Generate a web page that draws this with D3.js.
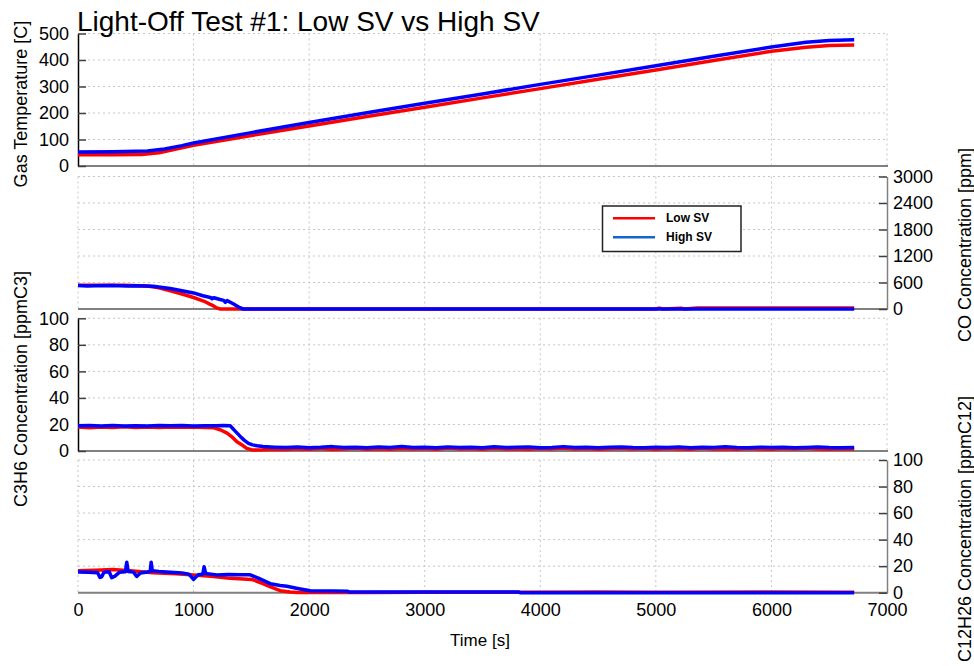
<!DOCTYPE html>
<html>
<head>
<meta charset="utf-8">
<script src="https://cdn.jsdelivr.net/npm/d3@7"></script>
<style>
  html, body { margin: 0; padding: 0; background: #fff; }
  svg { display: block; }
  text { font-family: "Liberation Sans", Arial, sans-serif; fill: #000; }
</style>
</head>
<body>
<svg id="chart" width="974" height="666"></svg>
<script>
// ---- Data: [time (s), value] ----
const seriesNames = ["Low SV", "High SV"];
const xTicks = [0, 1000, 2000, 3000, 4000, 5000, 6000, 7000];

// Gas temperature [C]
const tempLow = [[0,42],[300,42],[550,43],[700,50],[850,64],[1000,78],[1500,115],[2000,151],[2500,187],
  [3000,222],[3500,257],[4000,292],[4500,327],[5000,362],[5500,398],[6000,433],[6300,448],[6500,455],[6716,457]];
const tempHigh = [[0,53],[300,54],[600,57],[750,64],[900,77],[1000,87],[1500,126],[2000,164],[2500,201],
  [3000,237],[3500,272],[4000,308],[4500,343],[5000,378],[5500,414],[6000,449],[6300,467],[6500,474],[6716,476]];
const tempTicks = [0, 100, 200, 300, 400, 500];

// CO concentration [ppm]
const coLow = [[0,540],[200,540],[400,535],[600,520],[700,480],[800,410],[900,340],[1000,260],[1087,180],
  [1140,110],[1173,70],[1200,25],[1230,0],[5000,0],[5030,20],[5060,0],[5220,18],[5250,0],[5360,20],[6716,20]];
const coHigh = [[0,530],[80,520],[150,528],[300,530],[420,522],[500,528],[650,515],[797,463],[900,415],
  [1000,364],[1080,300],[1145,262],[1160,232],[1175,255],[1230,215],[1260,196],[1275,152],[1290,190],
  [1343,120],[1400,30],[1430,0],[6716,0]];
const coTicks = [0, 600, 1200, 1800, 2400, 3000];

// C3H6 concentration [ppmC3]
const c3h6Low = [[0,18],[100,17.6],[200,18.1],[300,17.8],[400,18.2],[500,17.7],[600,18],[700,17.8],[800,18.1],
  [900,17.9],[1000,18],[1100,17.8],[1170,17.6],[1230,16],[1290,13.5],[1340,10],[1375,7],[1420,4.5],[1460,2],
  [1500,1],[1520,0.7],[1600,0.9],[1700,1.4],[1800,1.1],[1900,1.6],[2000,1.3],[2100,1.8],[2200,1.2],[2300,1.5],
  [2400,2.1],[2500,1.4],[2600,1.7],[2700,1.3],[2800,1.9],[2900,1.5],[3000,1.8],[3100,1.4],[3200,2.2],[3300,1.6],
  [3400,1.8],[3500,1.3],[3600,2.0],[3700,1.5],[3800,1.7],[3900,1.4],[4000,1.9],[4100,1.6],[4200,2.3],[4300,1.5],
  [4400,1.8],[4500,1.4],[4600,1.7],[4700,2.1],[4800,1.5],[4900,1.8],[5000,1.3],[5100,1.9],[5200,1.6],[5300,1.4],
  [5400,2.0],[5500,1.5],[5600,1.7],[5700,1.3],[5800,1.9],[5900,1.6],[6000,1.4],[6100,1.8],[6200,1.5],[6300,2.0],
  [6400,1.6],[6500,1.4],[6600,1.7],[6716,1.5]];
const c3h6High = [[0,19],[100,19.2],[200,18.8],[300,19.3],[400,18.9],[500,19.1],[600,18.8],[700,19.2],[800,19],
  [900,19.3],[1000,18.9],[1100,19.1],[1200,19],[1260,19.2],[1317,19],[1360,15],[1404,11],[1440,8],[1475,5.8],
  [1510,4.6],[1550,4],[1600,3.4],[1635,3.2],[1700,2.9],[1800,2.6],[1900,3.1],[2000,2.5],[2100,2.8],[2200,3.3],
  [2300,2.6],[2400,2.9],[2500,2.4],[2600,3.0],[2700,2.7],[2800,3.4],[2900,2.6],[3000,2.8],[3100,2.5],[3200,3.1],
  [3300,2.7],[3400,2.9],[3500,2.4],[3600,3.2],[3700,2.6],[3800,2.8],[3900,3.0],[4000,2.5],[4100,2.7],[4200,3.3],
  [4300,2.6],[4400,2.9],[4500,2.5],[4600,2.8],[4700,3.1],[4800,2.6],[4900,2.4],[5000,2.9],[5100,2.7],[5200,3.0],
  [5300,2.5],[5400,2.8],[5500,2.6],[5600,3.2],[5700,2.7],[5800,2.5],[5900,2.9],[6000,2.6],[6100,2.8],[6200,2.4],
  [6300,2.7],[6400,3.0],[6500,2.6],[6600,2.5],[6716,2.7]];
const pctTicks = [0, 20, 40, 60, 80, 100];

// C12H26 concentration [ppmC12]
const c12Low = [[0,16.6],[150,17],[300,17.5],[450,16.5],[650,15],[850,14.2],[1000,13.3],[1150,12.3],[1317,10.8],
  [1505,10],[1580,7.5],[1660,4.5],[1750,1.5],[1835,0.5],[1900,0.2],[2500,0.2],[3000,0.3],[3810,0.3],[4500,0.5],
  [5000,0.4],[6000,0.5],[6716,0.4]];
const c12High = [[0,15.6],[90,15.4],[170,15],[190,11.5],[205,12],[225,15.5],[270,15.8],[292,11.3],[320,12.5],
  [360,15.5],[410,15.8],[422,23],[434,16],[480,15.5],[508,12.2],[540,14.8],[600,15.6],[625,16],[633,23],[643,16.5],
  [700,16],[800,15.5],[900,14.8],[960,14],[999,10],[1040,13.5],[1080,14],[1091,19.6],[1105,14.5],[1150,14],
  [1202,13.3],[1300,13.8],[1400,13.6],[1490,13.5],[1560,11],[1664,6.8],[1750,5.5],[1808,4.8],[1900,3.2],[2010,1.4],
  [2200,1.2],[2330,1.1],[2350,0.5],[3000,0.5],[3810,0.5],[3830,0],[6716,0]];

// ---- Layout ----
const svg = d3.select("#chart");
const xLeft = 78, xRight = 887;
const x = d3.scaleLinear().domain([0, 7000]).range([xLeft, xRight]);

const panels = [
  { top: 33.5, bottom: 166,   max: 500,  ticks: tempTicks, side: "left",
    low: tempLow, high: tempHigh, label: "Gas Temperature [C]", labelY: 104 },
  { top: 176.5, bottom: 309,  max: 3000, ticks: coTicks,   side: "right",
    low: coLow, high: coHigh, label: "CO Concentration [ppm]", labelY: 245 },
  { top: 318.3, bottom: 451,  max: 100,  ticks: pctTicks,  side: "left",
    low: c3h6Low, high: c3h6High, label: "C3H6 Concentration [ppmC3]", labelY: 389 },
  { top: 460,   bottom: 592.7, max: 100, ticks: pctTicks,  side: "right",
    low: c12Low, high: c12High, label: "C12H26 Concentration [ppmC12]", labelY: 529 }
];

const colors = { low: "#ff0000", high: "#0000ff" };
const gridColor = "#c6c6c6";

panels.forEach((p, i) => {
  const y = d3.scaleLinear().domain([0, p.max]).range([p.bottom, p.top]);
  const g = svg.append("g");

  // horizontal grid lines
  g.selectAll("line.hgrid").data(p.ticks.filter(t => t > 0)).join("line")
    .attr("x1", xLeft).attr("x2", xRight)
    .attr("y1", d => y(d)).attr("y2", d => y(d))
    .attr("stroke", gridColor).attr("stroke-width", 1).attr("stroke-dasharray", "2,3");

  // vertical grid lines
  const vTicks = xTicks.filter(t => p.side === "left" ? t > 0 : t < 7000);
  g.selectAll("line.vgrid").data(vTicks).join("line")
    .attr("x1", d => x(d)).attr("x2", d => x(d))
    .attr("y1", p.top).attr("y2", p.bottom)
    .attr("stroke", gridColor).attr("stroke-width", 1).attr("stroke-dasharray", "2,3");

  // bottom frame line
  g.append("line")
    .attr("x1", xLeft).attr("x2", xRight + 1)
    .attr("y1", p.bottom).attr("y2", p.bottom)
    .attr("stroke", "#808080").attr("stroke-width", 2);

  // value axis
  const fmt = d3.format("d");
  if (p.side === "left") {
    const ax = g.append("g").attr("transform", `translate(${xLeft},0)`)
      .call(d3.axisLeft(y).tickValues(p.ticks).tickFormat(fmt).tickSizeInner(-8).tickSizeOuter(0).tickPadding(9));
    ax.select(".domain").attr("stroke", "#000").attr("stroke-width", 1.5);
    ax.selectAll(".tick line").attr("stroke", "#404040").attr("stroke-width", 1.5);
    ax.selectAll("text").attr("font-size", 18).attr("fill", "#000");
  } else {
    const ax = g.append("g").attr("transform", `translate(${xRight},0)`)
      .call(d3.axisRight(y).tickValues(p.ticks).tickFormat(fmt).tickSizeInner(-8).tickSizeOuter(0).tickPadding(6));
    ax.select(".domain").attr("stroke", "#808080").attr("stroke-width", 1.5);
    ax.selectAll(".tick line").attr("stroke", "#404040").attr("stroke-width", 1.5);
    ax.selectAll("text").attr("font-size", 18).attr("fill", "#000");
  }

  // series lines
  const line = d3.line().x(d => x(d[0])).y(d => y(d[1]));
  g.append("path").datum(p.low).attr("d", line)
    .attr("fill", "none").attr("stroke", colors.low).attr("stroke-width", 3.5)
    .attr("stroke-linejoin", "round");
  g.append("path").datum(p.high).attr("d", line)
    .attr("fill", "none").attr("stroke", colors.high).attr("stroke-width", 3.5)
    .attr("stroke-linejoin", "round");

  // axis title
  const lx = p.side === "left" ? 27 : 971;
  svg.append("text")
    .attr("transform", `translate(${lx},${p.labelY}) rotate(-90)`)
    .attr("text-anchor", "middle")
    .attr("font-size", 18)
    .text(p.label);
});

// time axis under the last panel
const xAxis = svg.append("g").attr("transform", `translate(0,${panels[3].bottom})`)
  .call(d3.axisBottom(x).tickValues(xTicks).tickSize(0).tickPadding(11).tickFormat(d3.format("d")));
xAxis.select(".domain").remove();
xAxis.selectAll("text").attr("font-size", 18).attr("fill", "#000");

svg.append("text")
  .attr("x", 480).attr("y", 646)
  .attr("text-anchor", "middle").attr("font-size", 17)
  .text("Time [s]");

// title
svg.append("text")
  .attr("x", 77).attr("y", 31)
  .attr("font-size", 28)
  .text("Light-Off Test #1: Low SV vs High SV");

// legend
const leg = svg.append("g");
leg.append("rect").attr("x", 602.5).attr("y", 206).attr("width", 138.5).attr("height", 45.5)
  .attr("fill", "#fff").attr("stroke", "#222").attr("stroke-width", 1.5);
const legendColors = ["#ff0000", "#1565d0"];
seriesNames.forEach((name, i) => {
  const ly = 218.3 + i * 19;
  leg.append("line").attr("x1", 613).attr("x2", 655).attr("y1", ly).attr("y2", ly)
    .attr("stroke", legendColors[i]).attr("stroke-width", 2.5);
  leg.append("text").attr("x", 666).attr("y", ly + 4)
    .attr("font-family", "Lato, 'Open Sans', sans-serif")
    .attr("font-weight", "bold").attr("font-size", 12)
    .text(name);
});
</script>
</body>
</html>
